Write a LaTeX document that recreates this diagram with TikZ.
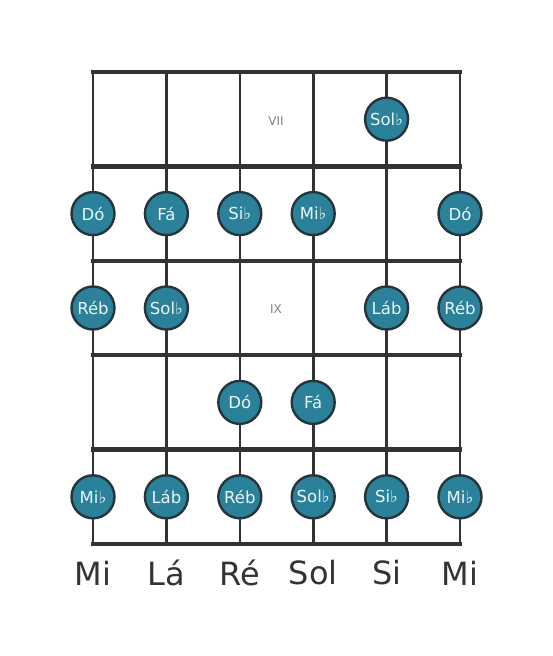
\documentclass[tikz,border=0pt]{standalone}
\usepackage{fontspec}
\setmainfont{DejaVu Sans}
\definecolor{line}{HTML}{333333}
\definecolor{notefill}{HTML}{2A8199}
\definecolor{noteedge}{HTML}{25353B}
\definecolor{notetext}{HTML}{EAF6F8}
\begin{document}
\begin{tikzpicture}[x=1pt,y=-1pt,
  fret/.style={line width=4.5pt,draw=line},
  stringline/.style={line width=2.6pt,draw=line},
  note/.style={circle,fill=notefill,draw=noteedge,line width=2.4pt,minimum size=43pt,inner sep=0pt,text=notetext,font=\fontsize{16.5}{19}\selectfont},
  strname/.style={text=line,font=\fontsize{32}{38}\selectfont},
  fretnum/.style={text=gray,font=\fontsize{12}{14}\selectfont}]
\useasboundingbox (0,0) rectangle (553,656);
% string x positions
\foreach \i/\x in {1/93,2/166.4,3/239.8,4/313.2,5/386.6,6/460}{
  \coordinate (s\i t) at (\x,72);
  \coordinate (s\i b) at (\x,544);
  \draw[stringline] (s\i t) -- (s\i b);
}
\foreach \j/\y in {0/72,1/166.4,2/260.8,3/355.2,4/449.6,5/544}{
  \coordinate (f\j l) at (93,\y);
  \coordinate (f\j r) at (460,\y);
  \draw[fret,line cap=rect] (f\j l) -- (f\j r);
}
\node[fretnum] (vii) at (276,121) {VII};
\node[fretnum] (ix) at (276,309) {IX};
% row 1
\node[note] (n15) at (386.6,119.2) {Sol♭};
% row 2
\node[note] (n21) at (93,213.6) {Dó};
\node[note] (n22) at (166.4,213.6) {Fá};
\node[note] (n23) at (239.8,213.6) {Si♭};
\node[note] (n24) at (313.2,213.6) {Mi♭};
\node[note] (n26) at (460,213.6) {Dó};
% row 3
\node[note] (n31) at (93,308) {Réb};
\node[note] (n32) at (166.4,308) {Sol♭};
\node[note] (n35) at (386.6,308) {Láb};
\node[note] (n36) at (460,308) {Réb};
% row 4
\node[note] (n43) at (239.8,402.4) {Dó};
\node[note] (n44) at (313.2,402.4) {Fá};
% row 5
\node[note] (n51) at (93,496.8) {Mi♭};
\node[note] (n52) at (166.4,496.8) {Láb};
\node[note] (n53) at (239.8,496.8) {Réb};
\node[note] (n54) at (313.2,496.8) {Sol♭};
\node[note] (n55) at (386.6,496.8) {Si♭};
\node[note] (n56) at (460,496.8) {Mi♭};
% string names
\node[strname] (l1) at (93,573) {Mi};
\node[strname] (l2) at (166.4,573) {Lá};
\node[strname] (l3) at (239.8,573) {Ré};
\node[strname] (l4) at (313.2,573) {Sol};
\node[strname] (l5) at (386.6,573) {Si};
\node[strname] (l6) at (460,573) {Mi};
\end{tikzpicture}
\end{document}
